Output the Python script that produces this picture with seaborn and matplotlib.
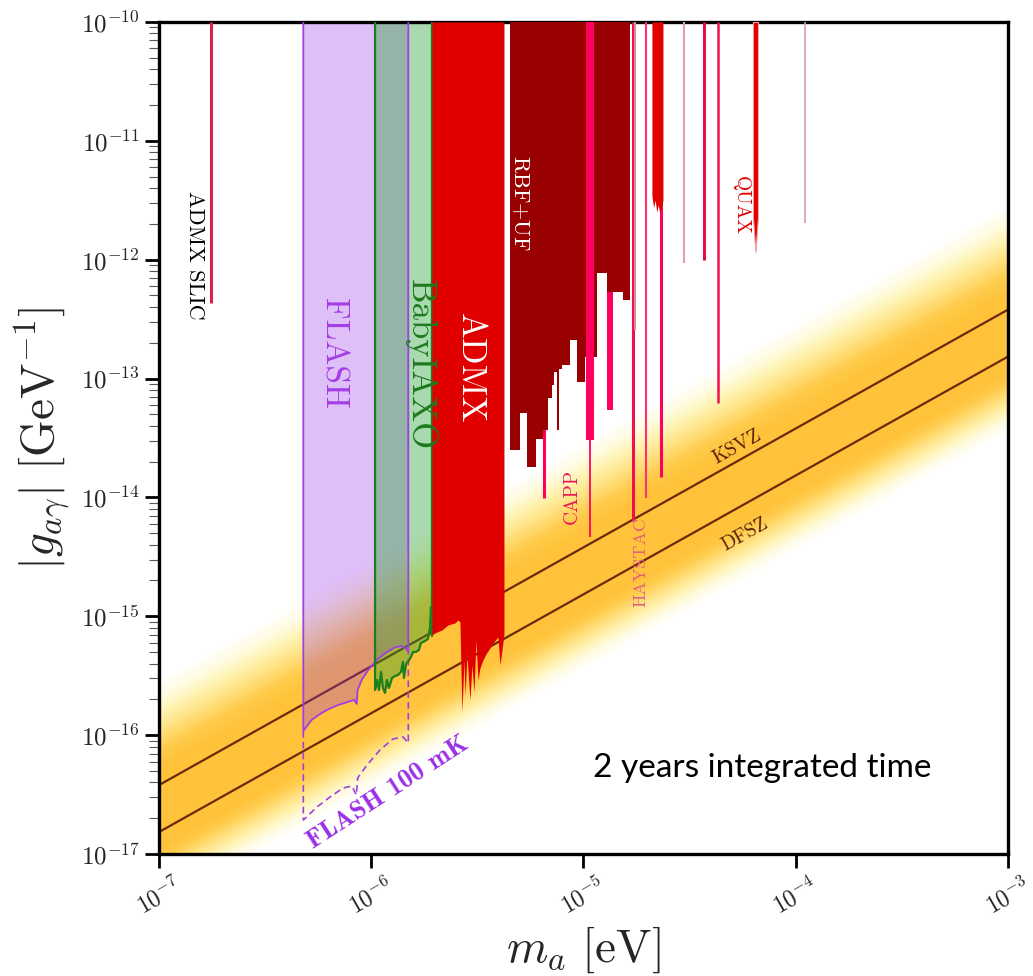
import numpy as np
import matplotlib
matplotlib.use("Agg")
import matplotlib.pyplot as plt
import seaborn as sns
from matplotlib.colors import LinearSegmentedColormap
from matplotlib.ticker import LogLocator, NullFormatter, NullLocator

# ---------------- data (m_a in eV, g in GeV^-1; polygons given as log10) ----------------
qcd_mass = [1e-8, 1e-2]
ksvz_g = [3.8e-18, 3.8e-12]
dfsz_g = [1.53e-18, 1.53e-12]
band_outer_lo = [3.5e-19, 3.5e-13]
band_outer_hi = [3.0e-17, 3.0e-11]
band_core_lo = [1.12e-18, 1.12e-12]
band_core_hi = [5.3e-18, 5.3e-12]

flash_logm = [-6.320, -6.281, -6.2415, -6.2024, -6.155, -6.108, -6.080, -6.0685, -6.064,
              -6.045, -6.014, -5.974, -5.935, -5.888, -5.8565, -5.833, -5.8254]
flash_logg = [-15.965, -15.872, -15.822, -15.782, -15.746, -15.719, -15.704, -15.738, -15.620,
              -15.536, -15.452, -15.368, -15.311, -15.261, -15.250, -15.278, -15.298]

flash100_logm = [-6.320, -6.256, -6.194, -6.133, -6.091, -6.070, -6.064, -6.020, -5.959,
                 -5.8975, -5.850, -5.8254]
flash100_logg = [-16.714, -16.605, -16.520, -16.445, -16.428, -16.503, -16.360, -16.251,
                 -16.125, -16.032, -16.015, -16.066]

babyiaxo_logm = [-5.982, -5.973, -5.9635, -5.954, -5.945, -5.935, -5.926, -5.9165, -5.902,
                 -5.888, -5.874, -5.860, -5.8505, -5.846, -5.836, -5.827, -5.813, -5.803,
                 -5.789, -5.775, -5.766, -5.747, -5.733, -5.723, -5.7186, -5.714]
babyiaxo_logg = [-15.620, -15.536, -15.620, -15.468, -15.603, -15.645, -15.536, -15.603,
                 -15.519, -15.502, -15.494, -15.468, -15.384, -15.519, -15.401, -15.384,
                 -15.342, -15.300, -15.300, -15.283, -15.224, -15.208, -15.191, -15.098,
                 -14.922, -15.166]

admx_logm = [-5.714, -5.700, -5.667, -5.6385, -5.6055, -5.591, -5.582, -5.5726, -5.563,
             -5.558, -5.549, -5.535, -5.5255, -5.516, -5.5066, -5.497, -5.488, -5.4736,
             -5.4595, -5.4407, -5.4218, -5.403, -5.3935, -5.384, -5.3747]
admx_logg = [-15.157, -15.140, -15.115, -15.073, -15.056, -15.031, -15.048, -15.805, -15.367,
             -15.662, -15.325, -15.704, -15.410, -15.637, -15.199, -15.536, -15.435, -15.367,
             -15.317, -15.267, -15.216, -15.174, -15.410, -15.283, -15.149]

rbf_edges_logm = [-5.3464, -5.2993, -5.2663, -5.2239, -5.1909, -5.1674, -5.1486, -5.1392,
                  -5.125, -5.1156, -5.1015, -5.0638, -5.0308, -4.9931, -4.9366, -4.8895,
                  -4.8141, -4.7811]
rbf_bottom_logg = [-13.601, -13.2895, -13.744, -13.508, -13.4325, -13.163, -13.054, -12.945,
                   -13.4325, -12.919, -12.886, -12.675, -13.029, -12.818, -12.112, -12.27,
                   -12.339]

# thin haloscope exclusions (vertical lines): mass, lower limit, upper limit
line_logm = [-6.755, -5.1839, -4.873, -4.767, -4.755, -4.7034, -4.635, -4.5243, -4.43,
             -4.3665, -3.9567]
line_bottom = [-12.364, -14.005, -13.264, -14.198, -12.591, -14.005, -13.828, -12.028,
               -12.002, -13.205, -11.691]
line_top = [-10.0] * 11
capp_logm = -4.9695
capp_bottom = -13.517
capp_tail_bottom = -14.333

red_stripe_logm = [-4.6775, -4.670, -4.662, -4.655, -4.648, -4.640, -4.633, -4.6257]
red_stripe_logg = [-11.46, -11.56, -11.50, -11.60, -11.54, -11.61, -11.56, -11.50]
quax_logm = [-4.2017, -4.190, -4.178]
quax_logg = [-11.64, -11.935, -11.64]

label_text = ["ADMX SLIC", "FLASH", "BabyIAXO", "ADMX", r"RBF$+$UF", "CAPP", "HAYSTAC",
              "QUAX", "KSVZ", "DFSZ"]
label_logm = [-6.830, -6.180, -5.770, -5.535, -5.299, -5.054, -4.729, -4.258, -4.277, -4.2394]
label_logg = [-11.96, -12.785, -12.886, -12.911, -11.523, -13.996, -14.543, -11.54, -13.576,
              -14.316]

xtick_vals = [1e-7, 1e-6, 1e-5, 1e-4, 1e-3]
xtick_labels = [r"$10^{-7}$", r"$10^{-6}$", r"$10^{-5}$", r"$10^{-4}$", r"$10^{-3}$"]
ytick_vals = [1e-17, 1e-16, 1e-15, 1e-14, 1e-13, 1e-12, 1e-11, 1e-10]
ytick_labels = [r"$10^{-17}$", r"$10^{-16}$", r"$10^{-15}$", r"$10^{-14}$", r"$10^{-13}$",
                r"$10^{-12}$", r"$10^{-11}$", r"$10^{-10}$"]

# ---------------- style ----------------
sns.set_theme(style="white")
plt.rcParams["font.family"] = "serif"
plt.rcParams["font.serif"] = ["cmr10"]
plt.rcParams["mathtext.fontset"] = "cm"
plt.rcParams["axes.unicode_minus"] = False
plt.rcParams["axes.formatter.use_mathtext"] = True

TOP = 1e-10
fig = plt.figure(figsize=(10.33, 9.76), dpi=100)
ax = fig.add_axes([0.1539, 0.125, 0.8219, 0.8525])
ax.set_xscale("log")
ax.set_yscale("log")

# QCD axion band as a gradient of stacked fills
cmap = LinearSegmentedColormap.from_list(
    "qcd", ["#FFFFFF", "#FFFBE2", "#FFF2AE", "#FFE07E", "#FFCC4C", "#FFC23A"])
m = np.array(qcd_mass)
lo_o, hi_o = np.log10(band_outer_lo), np.log10(band_outer_hi)
lo_i, hi_i = np.log10(band_core_lo), np.log10(band_core_hi)
n_layers = 40
for i in range(n_layers):
    t = i / (n_layers - 1)
    ax.fill_between(m, 10 ** (lo_o + t * (lo_i - lo_o)), 10 ** (hi_o + t * (hi_i - hi_o)),
                    color=cmap(t), lw=0, zorder=0)

sns.lineplot(x=qcd_mass, y=ksvz_g, color="#6B2A0A", lw=1.6, ax=ax, zorder=1)
sns.lineplot(x=qcd_mass, y=dfsz_g, color="#6B2A0A", lw=1.6, ax=ax, zorder=1)

# FLASH
fm, fg = 10 ** np.array(flash_logm), 10 ** np.array(flash_logg)
ax.fill_between(fm, fg, TOP, color="#982DE8", alpha=0.3, lw=0, zorder=2)
ax.plot(np.r_[fm[0], fm, fm[-1]], np.r_[TOP, fg, TOP], color="#A040E0", lw=1.3, zorder=2.6)
f1m, f1g = 10 ** np.array(flash100_logm), 10 ** np.array(flash100_logg)
ax.plot(np.r_[fm[0], f1m, fm[-1]], np.r_[fg[0], f1g, fg[-1]], color="#A040E0", lw=1.2,
        ls=(0, (4, 2.5)), zorder=2.6)

# BabyIAXO
bm, bg = 10 ** np.array(babyiaxo_logm), 10 ** np.array(babyiaxo_logg)
ax.fill_between(bm, bg, TOP, color="#2AA237", alpha=0.4, lw=0, zorder=2.2)
ax.plot(np.r_[bm[0], bm, bm[-1]], np.r_[TOP, bg, TOP], color="#1B7F1B", lw=1.6, zorder=2.7)

# thin lines hidden partly under RBF
lc = ["#E0204A", "#FF0060", "#FF0060", "#F01050", "#D89098", "#FF3070", "#FF0060",
      "#E0A0A8", "#E0104A", "#F01050", "#D8A0A8"]
lw = [2.2, 2.2, 4.3, 2.2, 1.5, 1.5, 2.2, 1.5, 2.2, 1.8, 1.2]
for x, b, t, c, w in zip(line_logm, line_bottom, line_top, lc, lw):
    ax.vlines(10 ** x, 10 ** b, 10 ** t, colors=c, lw=w, zorder=2.8)

# ADMX and RBF+UF
ax.fill_between(10 ** np.array(admx_logm), 10 ** np.array(admx_logg), TOP,
                color="#E00000", lw=0, zorder=3)
rb = rbf_bottom_logg + [rbf_bottom_logg[-1]]
ax.fill_between(10 ** np.array(rbf_edges_logm), 10 ** np.array(rb), TOP, step="post",
                color="#990000", lw=0, zorder=3)

# CAPP stripe on top
ax.vlines(10 ** capp_logm, 10 ** capp_bottom, TOP, colors="#FF0060", lw=5.8, zorder=3.5)
ax.vlines(10 ** capp_logm, 10 ** capp_tail_bottom, 10 ** capp_bottom, colors="#FF0060",
          lw=1.3, zorder=3.5)

ax.fill_between(10 ** np.array(red_stripe_logm), 10 ** np.array(red_stripe_logg), TOP,
                color="#E00000", lw=0, zorder=3.2)
ax.fill_between(10 ** np.array(quax_logm), 10 ** np.array(quax_logg), TOP,
                color="#E00000", lw=0.8, ec="#F0A0A0", zorder=3.2)

# labels
lab_style = [
    dict(color="black", fontsize=16, rotation=-90),
    dict(color="#A43CE6", fontsize=24, rotation=-90),
    dict(color="#1E7A1E", fontsize=25, rotation=-90),
    dict(color="white", fontsize=25, rotation=-90),
    dict(color="white", fontsize=16, rotation=-90),
    dict(color="#E8185A", fontsize=14, rotation=90),
    dict(color="#E0607E", fontsize=13, rotation=90),
    dict(color="#E00000", fontsize=14, rotation=-90),
    dict(color="#5A1E05", fontsize=14, rotation=29),
    dict(color="#5A1E05", fontsize=14, rotation=29),
]
for s, x, y, st in zip(label_text, label_logm, label_logg, lab_style):
    ax.text(10 ** x, 10 ** y, s, ha="center", va="center", rotation_mode="anchor",
            zorder=5, **st)

ax.text(10 ** -5.921, 10 ** -16.48, "FLASH 100 mK", family="cmb10", color="#9B30E6",
        fontsize=19, rotation=33, ha="center", va="center", rotation_mode="anchor", zorder=5)
ax.text(0.711, 0.103, "2 years integrated time", transform=ax.transAxes, family="Lato",
        fontsize=24, color="black", ha="center", va="center", zorder=5)

# axes
ax.set_xlim(1e-7, 1e-3)
ax.set_ylim(1e-17, 1e-10)
ax.set_xticks(xtick_vals)
ax.set_xticklabels(xtick_labels, fontsize=17, rotation=30)
ax.set_yticks(ytick_vals)
ax.set_yticklabels(ytick_labels, fontsize=18)
ax.xaxis.set_minor_locator(NullLocator())
ax.yaxis.set_minor_locator(LogLocator(base=10, subs=np.arange(2, 10) * 1.0, numticks=100))
ax.yaxis.set_minor_formatter(NullFormatter())
ax.tick_params(which="major", direction="out", length=10, width=2, color="black",
               pad=4, bottom=True, left=True, top=False, right=False)
ax.tick_params(which="minor", direction="out", length=7, width=0.8, color="0.35",
               left=True, right=False)
for sp in ax.spines.values():
    sp.set_linewidth(2.4)
    sp.set_color("black")

ax.set_xlabel(r"$m_a\ [\mathrm{eV}]$", fontsize=34)
ax.set_ylabel(r"$|g_{a\gamma}|\ [\mathrm{GeV}^{-1}]$", fontsize=34)
ax.xaxis.set_label_coords(0.5, -0.085)
ax.yaxis.set_label_coords(-0.101, 0.5)

fig.savefig("out.png", dpi=100)
